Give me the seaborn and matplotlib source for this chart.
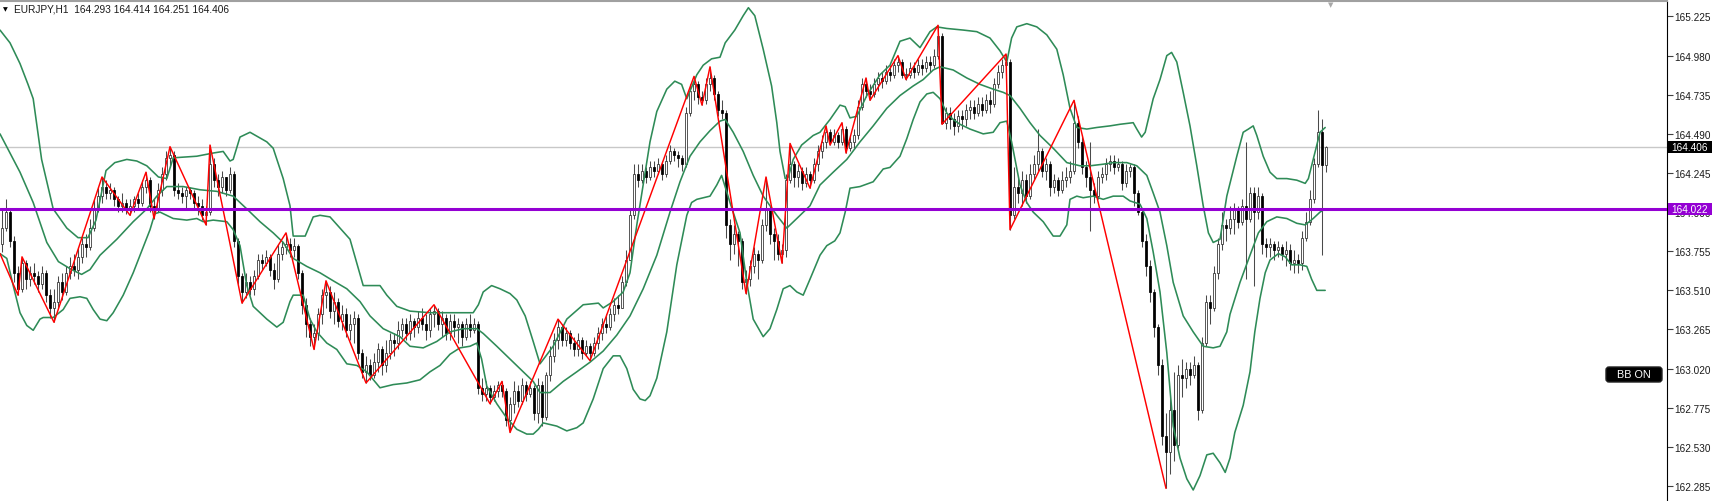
import numpy as np
import pandas as pd
import seaborn as sns
import matplotlib.pyplot as plt
from matplotlib.patches import Rectangle, FancyBboxPatch
from matplotlib.transforms import IdentityTransform

# ---- hourly bars, EURJPY H1 (open of each bar = previous close) ----
first_open = 163.80

close = [
    163.90, 164.00, 163.82, 163.62, 163.52, 163.68, 163.58, 163.62, 163.60, 163.55,
    163.62, 163.48, 163.40, 163.44, 163.56, 163.50, 163.62, 163.66, 163.64, 163.72,
    163.80, 163.78, 163.90, 164.02, 164.10, 164.16, 164.12, 164.14, 164.08, 164.04,
    164.06, 164.02, 164.04, 164.08, 164.06, 164.16, 164.20, 164.04, 164.02, 164.14,
    164.24, 164.34, 164.36, 164.14, 164.12, 164.10, 164.14, 164.12, 164.06, 164.04,
    163.98, 164.00, 164.30, 164.20, 164.16, 164.22, 164.14, 164.24, 163.82, 163.60,
    163.50, 163.56, 163.52, 163.60, 163.70, 163.68, 163.72, 163.64, 163.58, 163.74,
    163.78, 163.80, 163.76, 163.79, 163.62, 163.42, 163.30, 163.22, 163.24, 163.36,
    163.48, 163.50, 163.38, 163.44, 163.32, 163.36, 163.26, 163.30, 163.34, 163.12,
    163.00, 163.04, 162.98, 163.06, 163.14, 163.04, 163.12, 163.20, 163.18, 163.26,
    163.30, 163.24, 163.32, 163.28, 163.34, 163.30, 163.26, 163.36, 163.38, 163.30,
    163.34, 163.24, 163.32, 163.28, 163.30, 163.22, 163.30, 163.26, 163.30, 162.90,
    162.86, 162.90, 162.84, 162.88, 162.92, 162.88, 162.70, 162.80, 162.88, 162.82,
    162.92, 162.86, 162.90, 162.74, 162.92, 162.72, 162.98, 163.10, 163.20, 163.28,
    163.20, 163.24, 163.18, 163.14, 163.20, 163.12, 163.16, 163.12, 163.18, 163.24,
    163.30, 163.28, 163.36, 163.42, 163.40, 163.56, 163.70, 163.98, 164.24, 164.20,
    164.26, 164.22, 164.28, 164.26, 164.30, 164.24, 164.32, 164.38, 164.36, 164.34,
    164.30, 164.62, 164.76, 164.80, 164.72, 164.70, 164.80, 164.84, 164.74, 164.64,
    164.62, 163.92, 163.80, 163.86, 163.82, 163.56, 163.58, 163.66, 163.74, 163.70,
    163.92, 164.02, 163.86, 163.82, 163.74, 163.76, 164.20, 164.30, 164.22, 164.26,
    164.18, 164.24, 164.20, 164.30, 164.38, 164.44, 164.50, 164.44, 164.48, 164.44,
    164.52, 164.40, 164.44, 164.48, 164.66, 164.80, 164.76, 164.74, 164.80, 164.84,
    164.82, 164.88, 164.86, 164.92, 164.94, 164.86, 164.86, 164.90, 164.88, 164.92,
    164.90, 164.94, 164.92, 164.98, 165.10, 164.56, 164.62, 164.58, 164.54, 164.60,
    164.58, 164.64, 164.66, 164.62, 164.68, 164.64, 164.70, 164.68, 164.80, 164.88,
    164.92, 164.94, 163.98, 164.16, 164.12, 164.20, 164.10, 164.24, 164.30, 164.38,
    164.26, 164.30, 164.16, 164.20, 164.14, 164.20, 164.22, 164.26, 164.56, 164.44,
    164.28, 164.22, 164.14, 164.10, 164.22, 164.24, 164.30, 164.32, 164.28, 164.30,
    164.18, 164.26, 164.28, 164.12, 164.00, 163.82, 163.66, 163.50, 163.28, 163.04,
    162.60, 162.50, 162.76, 162.54, 162.98, 162.96, 163.02, 162.98, 163.04, 162.76,
    163.18, 163.44, 163.40, 163.62, 163.80, 163.92, 163.90, 163.96, 164.02, 163.94,
    164.04, 163.96, 164.12, 164.00, 164.10, 163.80, 163.78, 163.80, 163.76, 163.78,
    163.74, 163.76, 163.68, 163.70, 163.68, 163.84, 163.94, 164.08, 164.30, 164.50,
    164.293, 164.406,
]

high = [
    164.02, 164.08, 164.02, 163.85, 163.66, 163.72, 163.70, 163.66, 163.68, 163.63,
    163.66, 163.64, 163.52, 163.52, 163.60, 163.62, 163.66, 163.72, 163.74, 163.78,
    163.84, 163.86, 163.96, 164.08, 164.16, 164.22, 164.20, 164.18, 164.16, 164.10,
    164.12, 164.08, 164.08, 164.10, 164.12, 164.20, 164.25, 164.22, 164.08, 164.18,
    164.28, 164.38, 164.41, 164.38, 164.18, 164.16, 164.16, 164.16, 164.14, 164.10,
    164.08, 164.04, 164.42, 164.34, 164.24, 164.26, 164.22, 164.28, 164.26, 163.84,
    163.62, 163.62, 163.60, 163.64, 163.74, 163.74, 163.76, 163.74, 163.68, 163.80,
    163.82, 163.87, 163.84, 163.84, 163.80, 163.64, 163.46, 163.34, 163.30, 163.40,
    163.52, 163.57, 163.54, 163.50, 163.46, 163.42, 163.40, 163.36, 163.38, 163.36,
    163.14, 163.10, 163.08, 163.12, 163.18, 163.16, 163.20, 163.24, 163.24, 163.32,
    163.34, 163.34, 163.36, 163.34, 163.38, 163.40, 163.36, 163.40, 163.42, 163.40,
    163.38, 163.36, 163.36, 163.36, 163.34, 163.32, 163.34, 163.36, 163.34, 163.32,
    162.96, 162.94, 162.92, 162.92, 162.94, 162.94, 162.90, 162.84, 162.94, 162.92,
    162.96, 162.94, 162.94, 162.92, 162.96, 162.94, 163.00, 163.16, 163.24, 163.33,
    163.30, 163.28, 163.26, 163.22, 163.24, 163.22, 163.20, 163.18, 163.22, 163.28,
    163.34, 163.36, 163.40, 163.46, 163.48, 163.60, 163.76, 164.02, 164.30, 164.30,
    164.30, 164.28, 164.32, 164.32, 164.34, 164.32, 164.36, 164.42, 164.40, 164.38,
    164.36, 164.66, 164.80, 164.85, 164.82, 164.76, 164.84, 164.91, 164.86, 164.76,
    164.70, 164.64, 163.96, 163.92, 163.88, 163.84, 163.64, 163.70, 163.78, 163.76,
    163.96, 164.22, 164.04, 163.90, 163.86, 163.80, 164.24, 164.43, 164.32, 164.30,
    164.28, 164.28, 164.26, 164.34, 164.42, 164.48, 164.54, 164.52, 164.52, 164.50,
    164.56, 164.54, 164.48, 164.52, 164.70, 164.84, 164.84, 164.80, 164.84, 164.88,
    164.88, 164.92, 164.92, 164.96, 164.98, 164.96, 164.90, 164.94, 164.94, 164.96,
    164.96, 164.98, 164.98, 165.02, 165.17, 165.12, 164.66, 164.66, 164.62, 164.64,
    164.64, 164.68, 164.70, 164.70, 164.72, 164.72, 164.74, 164.76, 164.84, 164.92,
    164.96, 164.99, 164.96, 164.28, 164.22, 164.26, 164.24, 164.30, 164.36, 164.52,
    164.40, 164.34, 164.32, 164.24, 164.22, 164.26, 164.28, 164.32, 164.70, 164.60,
    164.48, 164.32, 164.44, 164.18, 164.26, 164.28, 164.34, 164.36, 164.36, 164.34,
    164.32, 164.30, 164.30, 164.30, 164.14, 164.02, 163.86, 163.70, 163.52, 163.30,
    163.08, 162.74, 162.84, 163.00, 163.04, 163.08, 163.06, 163.06, 163.10, 163.06,
    163.22, 163.48, 163.48, 163.66, 163.84, 164.00, 163.96, 164.04, 164.06, 164.04,
    164.08, 164.44, 164.16, 164.16, 164.16, 164.12, 163.84, 163.84, 163.82, 163.82,
    163.80, 163.82, 163.80, 163.76, 163.74, 163.88, 164.00, 164.14, 164.34, 164.64,
    164.58, 164.414,
]

low = [
    163.75, 163.88, 163.78, 163.56, 163.48, 163.50, 163.52, 163.54, 163.55, 163.50,
    163.52, 163.44, 163.34, 163.31, 163.40, 163.45, 163.48, 163.58, 163.60, 163.58,
    163.68, 163.72, 163.76, 163.88, 164.00, 164.06, 164.08, 164.08, 164.04, 164.00,
    164.00, 163.99, 163.98, 164.00, 164.02, 164.04, 164.12, 164.00, 163.96, 164.00,
    164.10, 164.20, 164.28, 164.10, 164.08, 164.06, 164.02, 164.08, 164.02, 163.98,
    163.95, 163.92, 163.98, 164.16, 164.10, 164.12, 164.10, 164.12, 163.78, 163.55,
    163.43, 163.46, 163.48, 163.48, 163.58, 163.64, 163.66, 163.60, 163.52, 163.56,
    163.70, 163.74, 163.72, 163.72, 163.58, 163.36, 163.22, 163.16, 163.14, 163.20,
    163.30, 163.40, 163.34, 163.30, 163.28, 163.26, 163.22, 163.20, 163.18, 163.08,
    162.96, 162.93, 162.95, 162.96, 163.00, 162.98, 163.00, 163.08, 163.10, 163.14,
    163.22, 163.20, 163.20, 163.22, 163.24, 163.26, 163.20, 163.22, 163.28, 163.26,
    163.22, 163.20, 163.20, 163.22, 163.18, 163.16, 163.20, 163.22, 163.24, 162.86,
    162.82, 162.82, 162.80, 162.82, 162.84, 162.84, 162.66, 162.62, 162.74, 162.78,
    162.80, 162.82, 162.84, 162.70, 162.68, 162.66, 162.70, 162.94, 163.06, 163.14,
    163.16, 163.16, 163.14, 163.10, 163.10, 163.08, 163.10, 163.07, 163.10, 163.14,
    163.20, 163.24, 163.26, 163.32, 163.36, 163.40, 163.54, 163.70, 163.96, 164.16,
    164.18, 164.18, 164.20, 164.22, 164.24, 164.20, 164.22, 164.30, 164.32, 164.28,
    164.26, 164.28, 164.60, 164.70, 164.68, 164.67, 164.68, 164.76, 164.70, 164.60,
    164.58, 163.84, 163.70, 163.74, 163.66, 163.52, 163.49, 163.54, 163.62, 163.58,
    163.68, 163.88, 163.80, 163.70, 163.70, 163.68, 163.72, 164.18, 164.16, 164.16,
    164.14, 164.16, 164.15, 164.18, 164.26, 164.34, 164.40, 164.42, 164.42, 164.40,
    164.42, 164.37, 164.38, 164.40, 164.46, 164.64, 164.72, 164.70, 164.72, 164.76,
    164.78, 164.80, 164.82, 164.84, 164.88, 164.84, 164.83, 164.84, 164.84, 164.86,
    164.86, 164.88, 164.88, 164.90, 164.96, 164.55, 164.52, 164.52, 164.48, 164.50,
    164.52, 164.54, 164.58, 164.58, 164.60, 164.60, 164.62, 164.62, 164.66, 164.78,
    164.84, 164.86, 163.89, 163.96, 164.06, 164.04, 164.06, 164.08, 164.20, 164.26,
    164.22, 164.20, 164.10, 164.12, 164.10, 164.12, 164.16, 164.18, 164.24, 164.40,
    164.24, 164.16, 163.88, 164.06, 164.08, 164.18, 164.20, 164.26, 164.24, 164.26,
    164.14, 164.16, 164.22, 164.04, 163.98, 163.78, 163.60, 163.44, 163.22, 162.98,
    162.54, 162.27, 162.36, 162.44, 162.52, 162.84, 162.90, 162.92, 162.96, 162.70,
    162.74, 163.16, 163.30, 163.38, 163.58, 163.76, 163.82, 163.86, 163.86, 163.90,
    163.92, 163.58, 163.94, 163.54, 163.96, 163.74, 163.72, 163.72, 163.70, 163.72,
    163.70, 163.66, 163.64, 163.62, 163.62, 163.64, 163.82, 163.92, 164.06, 164.28,
    163.73, 164.251,
]

# ---- Bollinger bands (bar index, price) ----
upper_bar = [-0.5, 2, 4.5, 6.5, 7.8, 9.9, 12.8, 16.2, 19, 21.5, 23.5, 26, 28.2, 31.2, 33.7, 36.2, 39.1, 41.2,
             42.8, 48.7, 52.8, 55.3, 57, 57.8, 59.5, 62, 66.2, 67.8, 70.3, 72, 72.8, 75.8, 77.8, 79.5, 82,
             84.5, 87, 90.3, 94.5, 96.2, 98.7, 102, 107, 112, 117.8, 119.1, 120.3, 122.4, 124.5, 127, 128.7,
             130.8, 132.8, 134.5, 137.8, 141.2, 145.3, 149.1, 150.3, 152.8, 155.3, 157, 158.7, 160.3, 162,
             163.7, 166.2, 168.2, 169.9, 171.2, 173.7, 175.3, 177.4, 179.5, 180.8, 183.2, 185.3, 186.6,
             188.2, 190.3, 192.4, 193.7, 194.5, 195.8, 196.6, 197.8, 199.9, 202.8, 204.5, 207, 209.5,
             210.8, 212, 213.7, 216.2, 219.5, 222, 224.5, 227, 229.5, 232, 233.7, 236.2, 240.3, 243.7,
             247, 249.5, 251.2, 252.4, 253.7, 256.2, 258.7, 261.2, 263.7, 265.3, 267, 268.7, 271.2, 273.7,
             277, 279.5, 282.8, 283.7, 284.9, 285.8, 287.8, 289.5, 291.2, 292.4, 293.7, 295.3, 297, 298.7,
             300.3, 301.6, 302.8, 304.5, 306.2, 308.7, 310.3, 311.6, 312.8, 313.7, 315.3, 317, 318.7,
             321.2, 323.7, 325.8, 326.6, 327.8, 329.5, 330.8]
upper_val = [165.14, 165.06, 164.93, 164.80, 164.71, 164.33, 164.02, 163.90, 163.84, 163.84, 163.95, 164.26,
             164.31, 164.33, 164.32, 164.29, 164.22, 164.21, 164.34, 164.35, 164.37, 164.38, 164.32, 164.33,
             164.47, 164.50, 164.44, 164.40, 164.21, 164.04, 163.85, 163.85, 163.97, 163.98, 163.97, 163.90,
             163.83, 163.54, 163.54, 163.48, 163.41, 163.38, 163.37, 163.37, 163.37, 163.42, 163.50, 163.54,
             163.52, 163.49, 163.45, 163.35, 163.19, 163.05, 163.16, 163.33, 163.42, 163.43, 163.40, 163.44,
             163.50, 163.62, 163.92, 164.17, 164.44, 164.63, 164.77, 164.82, 164.80, 164.71, 164.86, 164.92,
             164.96, 164.97, 165.06, 165.14, 165.23, 165.28, 165.23, 165.02, 164.79, 164.56, 164.38, 164.21,
             164.22, 164.33, 164.42, 164.48, 164.50, 164.58, 164.67, 164.66, 164.59, 164.60, 164.73, 164.86,
             164.92, 165.07, 165.09, 165.03, 165.13, 165.16, 165.15, 165.14, 165.13, 165.09, 165.01, 164.94,
             165.09, 165.16, 165.18, 165.16, 165.11, 165.02, 164.86, 164.65, 164.53, 164.52, 164.53, 164.54,
             164.55, 164.56, 164.52, 164.47, 164.50, 164.71, 164.83, 164.98, 165.00, 164.94, 164.75, 164.54,
             164.29, 164.04, 163.87, 163.81, 163.83, 164.10, 164.35, 164.50, 164.52, 164.54, 164.48, 164.35,
             164.25, 164.21, 164.21, 164.20, 164.18, 164.21, 164.33, 164.50, 164.53]

mid_bar = [-0.5, 4.5, 7.8, 11.2, 14.1, 17.4, 19.9, 22, 24.5, 28.7, 32.8, 36.2, 38.7, 41.2, 45.3, 49.5, 53.7,
           57.8, 61.2, 64.5, 67.8, 70.3, 72.8, 76.2, 79.5, 82.8, 86.2, 89.5, 92, 95.3, 99.5, 102, 105.3,
           108.7, 112, 115.3, 118.7, 120.3, 123.7, 127, 130.3, 132.8, 134.5, 137, 140.3, 143.7, 147, 150.3,
           153.7, 157, 160.3, 163.7, 167, 169.5, 172, 174.5, 177, 179.5, 180.8, 182.8, 185.3, 187.8, 190.3,
           192, 193.7, 196.2, 198.7, 202, 204.5, 207.8, 211.2, 214.5, 217.8, 221.2, 224.5, 227.8, 230.3,
           232.8, 234.5, 237.8, 241.2, 244.5, 247.8, 250.3, 252, 254.5, 257, 259.5, 262.8, 266.2, 269.5, 272,
           275.3, 277.8, 281.2, 283.7, 286.2, 287.8, 289.5, 291.2, 292.8, 295.3, 297.8, 300.3, 302.8, 304.5,
           306.2, 307, 309.5, 312, 314.1, 316.2, 318.7, 321.2, 323.7, 325.8, 327.8, 329.5, 330.8]
mid_val = [164.49, 164.25, 164.06, 163.81, 163.69, 163.64, 163.61, 163.64, 163.73, 163.83, 163.94, 164.02,
           164.10, 164.16, 164.16, 164.14, 164.13, 164.10, 164.02, 163.94, 163.87, 163.81, 163.71, 163.66,
           163.62, 163.57, 163.52, 163.44, 163.35, 163.27, 163.22, 163.16, 163.15, 163.19, 163.25, 163.27,
           163.27, 163.24, 163.16, 163.08, 163.00, 162.94, 162.87, 162.87, 162.94, 163.00, 163.06, 163.13,
           163.23, 163.35, 163.52, 163.73, 164.00, 164.19, 164.35, 164.44, 164.51, 164.57, 164.58, 164.50,
           164.38, 164.23, 164.10, 164.04, 163.98, 163.90, 163.96, 164.04, 164.17, 164.25, 164.33, 164.44,
           164.54, 164.65, 164.73, 164.79, 164.83, 164.89, 164.91, 164.89, 164.84, 164.80, 164.77, 164.75,
           164.73, 164.65, 164.56, 164.48, 164.40, 164.31, 164.29, 164.29, 164.30, 164.31, 164.31, 164.29,
           164.23, 164.12, 164.00, 163.79, 163.56, 163.35, 163.25, 163.16, 163.15, 163.16, 163.25, 163.36,
           163.56, 163.73, 163.87, 163.94, 163.97, 163.96, 163.93, 163.92, 163.96, 164.00, 164.02]

lower_bar = [-0.5, 1.2, 2.8, 4.5, 6.2, 7.8, 9.5, 10.3, 12.8, 15.3, 17, 19.5, 21.2, 22.8, 24.5, 26.2, 27.8,
             30.3, 32.8, 35.3, 37, 38.2, 39.5, 42.8, 46.2, 48.7, 50.3, 52.8, 56.2, 57.8, 59.5, 61.2, 62.8,
             66.2, 68.7, 70.3, 72, 72.8, 75.3, 77, 78.7, 81.2, 83.7, 86.2, 88.7, 91.2, 94.5, 97.8, 101.2,
             104.5, 107, 109.5, 112, 114.5, 117, 118.7, 119.9, 121.2, 123.7, 126.2, 128.7, 131.2, 132.8,
             134.1, 135.3, 138.7, 141.2, 143.7, 145.3, 147.8, 150.3, 152.8, 154.5, 156.2, 157.8, 159.5,
             160.8, 162, 163.7, 166.2, 168.7, 171.2, 172.4, 173.7, 177, 178.7, 179.9, 182, 184.5, 186.2,
             187.8, 190.3, 192, 193.7, 195.3, 197, 198.7, 200.3, 202, 204.5, 206.2, 208.2, 209.5, 210.8, 212,
             214.5, 217.8, 220.3, 222, 224.5, 226.2, 227.8, 229.5, 231.2, 232.8, 234.5, 236.2, 237.8, 239.5,
             242, 245.3, 247.8, 249.5, 251.2, 252.4, 254.5, 256.2, 257.8, 260.3, 262.8, 264.5, 266.2, 267,
             268.7, 270.3, 272.8, 275.3, 277.8, 280.3, 282, 284.5, 286.2, 287.8, 289.5, 291.2, 292.8, 294.5,
             296.2, 297.8, 299.5, 301.2, 302.8, 304.5, 305.8, 307, 308.2, 310.3, 312, 313.2, 314.5, 315.8,
             317, 319.1, 320.8, 322.4, 324.5, 326.2, 327.4, 328.7, 330.8]
lower_val = [163.74, 163.71, 163.54, 163.37, 163.29, 163.26, 163.33, 163.34, 163.34, 163.39, 163.46, 163.47,
             163.46, 163.39, 163.33, 163.32, 163.37, 163.48, 163.62, 163.78, 163.89, 163.99, 164.00, 163.96,
             163.95, 163.96, 163.94, 163.95, 163.94, 163.89, 163.79, 163.54, 163.41, 163.33, 163.28, 163.31,
             163.44, 163.48, 163.48, 163.33, 163.25, 163.18, 163.14, 163.05, 163.04, 163.00, 162.90, 162.92,
             162.93, 162.95, 163.00, 163.04, 163.11, 163.15, 163.16, 163.18, 163.08, 162.91, 162.80, 162.71,
             162.64, 162.61, 162.61, 162.64, 162.68, 162.66, 162.63, 162.65, 162.68, 162.83, 163.02, 163.10,
             163.10, 163.02, 162.89, 162.83, 162.82, 162.85, 162.96, 163.25, 163.67, 163.98, 164.06, 164.08,
             164.10, 164.17, 164.23, 164.06, 163.87, 163.56, 163.33, 163.22, 163.27, 163.39, 163.52, 163.54,
             163.50, 163.48, 163.58, 163.73, 163.79, 163.82, 163.87, 164.00, 164.15, 164.16, 164.19, 164.27,
             164.28, 164.35, 164.46, 164.58, 164.69, 164.74, 164.75, 164.71, 164.62, 164.58, 164.55, 164.52,
             164.49, 164.50, 164.56, 164.57, 164.44, 164.17, 164.06, 164.00, 163.94, 163.85, 163.85, 163.92,
             164.08, 164.10, 164.09, 164.10, 164.08, 164.10, 164.10, 164.07, 164.05, 163.96, 163.75, 163.50,
             163.12, 162.66, 162.46, 162.33, 162.26, 162.35, 162.48, 162.49, 162.43, 162.37, 162.46, 162.62,
             162.79, 163.00, 163.25, 163.46, 163.62, 163.70, 163.74, 163.72, 163.67, 163.67, 163.66, 163.58,
             163.51, 163.51]

# ---- ZigZag pivots (bar index, price) ----
zz_bar = [-0.5, 4, 5, 13, 25, 32, 36, 38, 42, 51, 52, 60, 71, 78, 81, 91, 108, 122, 125, 127, 139, 147,
          173, 175, 177, 186, 191, 195, 197, 202, 206, 207, 210, 211, 216, 217, 224, 226, 234, 235, 251,
          252, 268, 291]
zz_val = [163.74, 163.48, 163.72, 163.31, 164.22, 163.98, 164.25, 163.96, 164.41, 163.92, 164.42, 163.43,
          163.87, 163.14, 163.57, 162.93, 163.42, 162.80, 162.94, 162.62, 163.33, 163.07, 164.85, 164.67,
          164.91, 163.49, 164.22, 163.68, 164.43, 164.15, 164.54, 164.42, 164.56, 164.37, 164.84, 164.70,
          164.98, 164.83, 165.17, 164.55, 164.99, 163.89, 164.70, 162.27]

level_line = 164.022
bid_line = 164.406
tick_values = [162.285, 162.530, 162.775, 163.020, 163.265, 163.510, 163.755, 164.000,
               164.245, 164.490, 164.735, 164.980, 165.225]

bars = pd.DataFrame({"close": close, "high": high, "low": low})
bars["open"] = [first_open] + close[:-1]
bars["bar"] = np.arange(len(bars))
bull = bars["close"] >= bars["open"]
body_lo = bars[["open", "close"]].min(axis=1)
body_h = (bars["close"] - bars["open"]).abs().clip(lower=0.004)

sns.set_style("white")
plt.rcParams["font.family"] = ["Liberation Sans", "DejaVu Sans"]

W, H = 1717, 502
fig = plt.figure(figsize=(W / 100, H / 100), dpi=100)
ax = fig.add_axes([0, 0, 1667 / W, 500 / H])

green = "#2e8b57"

ax.axhline(bid_line, color="#c8c8c8", linewidth=1.0, zorder=1)

# candles
ax.vlines(bars["bar"], bars["low"], bars["high"], color="#4a4a4a", linewidth=0.75, zorder=2)
ax.bar(bars.loc[bull, "bar"], body_h[bull], bottom=body_lo[bull], width=0.6,
       color="white", edgecolor="#2a2a2a", linewidth=0.55, zorder=3)
ax.bar(bars.loc[~bull, "bar"], body_h[~bull], bottom=body_lo[~bull], width=0.6,
       color="black", edgecolor="black", linewidth=0.55, zorder=3)

# bands + zigzag
for xs, ys in [(upper_bar, upper_val), (mid_bar, mid_val), (lower_bar, lower_val)]:
    sns.lineplot(x=xs, y=ys, ax=ax, color=green, linewidth=1.15, estimator=None, sort=False, zorder=4)
sns.lineplot(x=zz_bar, y=zz_val, ax=ax, color="red", linewidth=1.05, estimator=None, sort=False, zorder=5)

ax.axhline(level_line, color="#9400d3", linewidth=2.2, zorder=6)

ax.set_xlim(-0.5, 416.25)
ax.set_ylim(162.191, 165.322)
ax.set_xlabel("")
ax.set_ylabel("")
ax.set_xticks([])
ax.yaxis.tick_right()
ax.set_yticks(tick_values)
ax.set_yticklabels([f"{v:.3f}" for v in tick_values])
ax.tick_params(axis="y", length=4, width=0.8, color="#404040", labelsize=7.2,
               labelcolor="#1a1a1a", pad=1.5, right=True, left=False)
ax.spines["left"].set_visible(False)
ax.spines["bottom"].set_visible(False)
ax.spines["top"].set_color("#a0a0a0")
ax.spines["top"].set_linewidth(1.5)
ax.spines["right"].set_color("black")
ax.spines["right"].set_linewidth(0.8)


def price_tag(value, face):
    y = ax.transData.transform((0, value))[1]
    fig.add_artist(Rectangle((1668, y - 6), 44, 12, transform=IdentityTransform(),
                             facecolor=face, edgecolor="none", zorder=5))
    fig.text(1690 / W, y / H, f"{value:.3f}", color="white", fontsize=7.2,
             ha="center", va="center", zorder=6)


price_tag(bid_line, "black")
price_tag(level_line, "#9400d3")

# BB ON button
fig.add_artist(FancyBboxPatch((1606, H - 383), 56, 15, boxstyle="round,pad=0,rounding_size=3",
                              transform=IdentityTransform(), facecolor="black", edgecolor="#202020",
                              zorder=5))
fig.text(1634 / W, (H - 375.5) / H, "BB ON", color="white", fontsize=7.8,
         ha="center", va="center", zorder=6)

# header
last = bars.iloc[-1]
fig.text(5 / W, 1 - 10 / H, "\u25bc", fontsize=4.5, family="DejaVu Sans", color="black",
         ha="center", va="center")
fig.text(14 / W, 1 - 10 / H,
         f"EURJPY,H1  {last['open']:.3f} {last['high']:.3f} {last['low']:.3f} {last['close']:.3f}",
         fontsize=7.3, color="#1a1a1a", ha="left", va="center")
fig.text(1331 / W, 1 - 5 / H, "\u25bc", fontsize=5, family="DejaVu Sans", color="#a8a8a8",
         ha="center", va="center")

fig.savefig("out.png", dpi=100)
